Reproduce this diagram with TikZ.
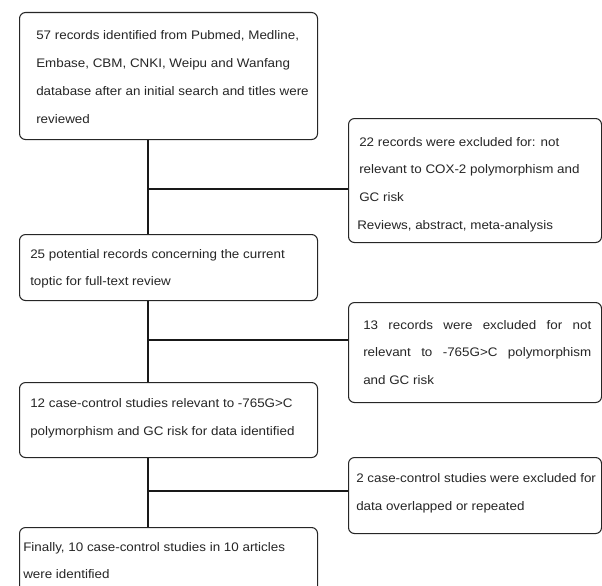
\documentclass[tikz,border=0pt]{standalone}
\usepackage{fontspec}
\setmainfont{Liberation Sans}[FakeStretch=1.08]
\begin{document}
\begin{tikzpicture}[x=0.75pt,y=-0.75pt,
  box/.style={draw=black!85, line width=0.8pt, rounded corners=4.5pt, anchor=north west, inner sep=0pt, fill=white},
  txt/.style={anchor=west, inner sep=0pt, align=left, text=black!85, font=\fontsize{9.3}{20.8}\selectfont},
  conn/.style={draw=black!90, line width=0.8pt}]
\useasboundingbox (0,0) rectangle (602,585);
% spine
\coordinate (spine) at (148,0);
% boxes
\node[box, minimum width=223.5pt, minimum height=95.25pt] (b1) at (19,12) {};
\node[box, minimum width=189.75pt, minimum height=93pt] (b22) at (348,118) {};
\node[box, minimum width=223.5pt, minimum height=49.5pt] (b25) at (19,234) {};
\node[box, minimum width=189.75pt, minimum height=75pt] (b13) at (348,302) {};
\node[box, minimum width=223.5pt, minimum height=56.25pt] (b12) at (19,382) {};
\node[box, minimum width=189.75pt, minimum height=57pt] (b2) at (348,457) {};
\node[box, minimum width=223.5pt, minimum height=49.5pt] (bf) at (19,527) {};
% texts
\node[txt] (t1) at ([xshift=12.75pt,yshift=-0.75pt]b1.west) {57 records identified from Pubmed, Medline,\\Embase, CBM, CNKI, Weipu and Wanfang\\database after an initial search and titles were\\reviewed};
\node[txt] (t22) at ([xshift=8.25pt,yshift=-3pt]b22.west) {22 records were excluded for: not\\relevant to COX-2 polymorphism and\\GC risk\\\hspace*{-1.5pt}Reviews, abstract, meta-analysis};
\node[txt] (t25) at ([xshift=8.25pt,yshift=-1pt]b25.west) {25 potential records concerning the current\\toptic for full-text review};
\node[txt] (t13) at ([xshift=11.25pt,yshift=0pt]b13.west) {\makebox[171pt][s]{13 records were excluded for not}\\\makebox[171pt][s]{relevant to -765G>C polymorphism}\\and GC risk};
\node[txt] (t12) at ([xshift=8.25pt,yshift=1.5pt]b12.west) {12 case-control studies relevant to -765G>C\\polymorphism and GC risk for data identified};
\node[txt] (t2) at ([xshift=6pt,yshift=1.5pt]b2.west) {2 case-control studies were excluded for\\data overlapped or repeated};
\node[txt] (tf) at ([xshift=3pt,yshift=0pt]bf.west) {Finally, 10 case-control studies in 10 articles\\were identified};
% junctions
\coordinate (j1) at (148,189);
\coordinate (j2) at (148,340);
\coordinate (j3) at (148,491);
% connectors
\draw[conn] (b1.south -| spine) -- (b25.north -| spine);
\draw[conn] (j1) -- (j1 -| b22.west);
\draw[conn] (b25.south -| spine) -- (b12.north -| spine);
\draw[conn] (j2) -- (j2 -| b13.west);
\draw[conn] (b12.south -| spine) -- (bf.north -| spine);
\draw[conn] (j3) -- (j3 -| b2.west);
\end{tikzpicture}
\end{document}
